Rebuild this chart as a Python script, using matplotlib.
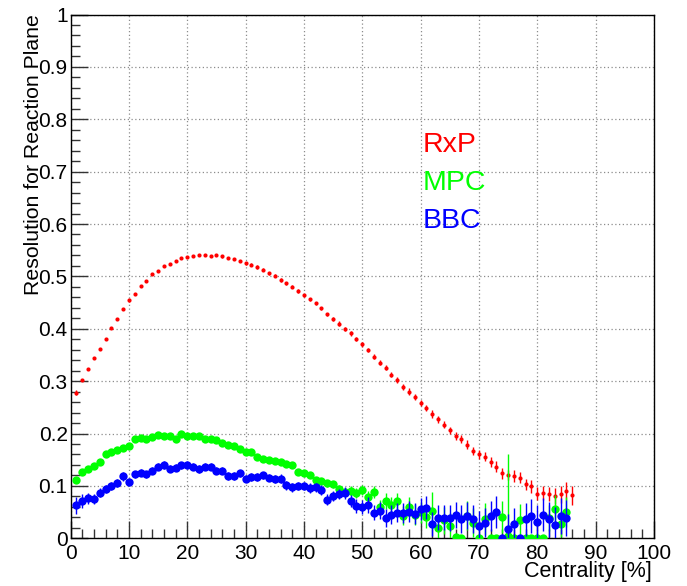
import matplotlib
matplotlib.use("Agg")
import matplotlib.pyplot as plt
import numpy as np
from matplotlib.ticker import MultipleLocator, FuncFormatter

plt.rcParams['font.family'] = ['Liberation Sans', 'DejaVu Sans']

# Event-plane resolution versus centrality (1% bins)
centrality_rxp = np.arange(1, 87)
centrality_det = np.arange(1, 86)

res_rxp = [0.278, 0.302, 0.323, 0.345, 0.361, 0.380, 0.401, 0.419, 0.437, 0.454,
           0.467, 0.482, 0.492, 0.504, 0.511, 0.519, 0.524, 0.529, 0.535, 0.537,
           0.539, 0.540, 0.540, 0.539, 0.540, 0.538, 0.535, 0.534, 0.530, 0.525,
           0.522, 0.518, 0.513, 0.506, 0.501, 0.493, 0.487, 0.480, 0.472, 0.464,
           0.456, 0.449, 0.439, 0.428, 0.419, 0.410, 0.399, 0.391, 0.380, 0.370,
           0.360, 0.347, 0.335, 0.326, 0.312, 0.302, 0.289, 0.280, 0.270, 0.258,
           0.249, 0.237, 0.227, 0.217, 0.206, 0.195, 0.190, 0.179, 0.167, 0.160,
           0.156, 0.146, 0.137, 0.124, 0.121, 0.119, 0.116, 0.103, 0.099, 0.085,
           0.086, 0.084, 0.081, 0.084, 0.090, 0.082]
err_rxp = [0.005, 0.002, 0.002, 0.002, 0.002, 0.002, 0.002, 0.002, 0.002, 0.002,
           0.002, 0.002, 0.002, 0.002, 0.002, 0.002, 0.002, 0.002, 0.002, 0.002,
           0.002, 0.002, 0.002, 0.002, 0.002, 0.002, 0.002, 0.002, 0.002, 0.003,
           0.003, 0.003, 0.003, 0.003, 0.003, 0.003, 0.003, 0.003, 0.003, 0.003,
           0.003, 0.003, 0.003, 0.003, 0.004, 0.004, 0.004, 0.004, 0.004, 0.004,
           0.004, 0.004, 0.005, 0.005, 0.005, 0.005, 0.006, 0.006, 0.006, 0.006,
           0.006, 0.007, 0.007, 0.007, 0.007, 0.008, 0.008, 0.008, 0.008, 0.009,
           0.009, 0.009, 0.010, 0.010, 0.010, 0.011, 0.011, 0.011, 0.012, 0.012,
           0.013, 0.013, 0.015, 0.016, 0.017, 0.018]

res_mpc = [0.111, 0.127, 0.133, 0.138, 0.146, 0.160, 0.165, 0.169, 0.173, 0.177,
           0.190, 0.191, 0.190, 0.193, 0.197, 0.196, 0.196, 0.189, 0.200, 0.195,
           0.196, 0.196, 0.190, 0.190, 0.188, 0.181, 0.178, 0.176, 0.171, 0.164,
           0.165, 0.155, 0.152, 0.150, 0.147, 0.145, 0.142, 0.139, 0.127, 0.125,
           0.121, 0.111, 0.110, 0.105, 0.103, 0.094, 0.088, 0.090, 0.086, 0.092,
           0.079, 0.088, 0.060, 0.071, 0.063, 0.071, 0.043, 0.060, 0.045, 0.050,
           0.041, 0.053, 0.019, 0.034, 0.023, 0.002, 0.000, 0.043, 0.030, 0.001,
           0.037, 0.000, 0.000, 0.041, 0.005, 0.000, 0.035, 0.000, 0.000, 0.000,
           0.000, 0.039, 0.055, 0.027, 0.050]
err_mpc = [0.006, 0.006, 0.005, 0.005, 0.005, 0.005, 0.004, 0.004, 0.004, 0.004,
           0.004, 0.004, 0.004, 0.004, 0.004, 0.004, 0.004, 0.004, 0.004, 0.004,
           0.004, 0.004, 0.004, 0.004, 0.004, 0.004, 0.004, 0.004, 0.004, 0.004,
           0.004, 0.005, 0.005, 0.005, 0.005, 0.005, 0.005, 0.005, 0.005, 0.006,
           0.006, 0.006, 0.006, 0.007, 0.007, 0.008, 0.008, 0.009, 0.010, 0.010,
           0.012, 0.012, 0.014, 0.015, 0.016, 0.016, 0.018, 0.018, 0.020, 0.020,
           0.022, 0.035, 0.022, 0.025, 0.025, 0.000, 0.000, 0.028, 0.028, 0.000,
           0.030, 0.000, 0.000, 0.030, 0.155, 0.000, 0.030, 0.000, 0.000, 0.000,
           0.000, 0.025, 0.028, 0.025, 0.028]

res_bbc = [0.063, 0.071, 0.076, 0.075, 0.087, 0.094, 0.100, 0.106, 0.118, 0.108,
           0.122, 0.125, 0.122, 0.129, 0.137, 0.140, 0.133, 0.135, 0.139, 0.140,
           0.137, 0.132, 0.137, 0.137, 0.129, 0.129, 0.119, 0.119, 0.124, 0.114,
           0.117, 0.117, 0.120, 0.116, 0.113, 0.114, 0.101, 0.097, 0.100, 0.100,
           0.096, 0.097, 0.092, 0.074, 0.081, 0.085, 0.086, 0.071, 0.062, 0.060,
           0.064, 0.049, 0.053, 0.038, 0.045, 0.049, 0.048, 0.051, 0.047, 0.055,
           0.058, 0.028, 0.039, 0.039, 0.039, 0.045, 0.037, 0.043, 0.037, 0.024,
           0.030, 0.042, 0.050, 0.000, 0.017, 0.027, 0.000, 0.036, 0.043, 0.032,
           0.045, 0.036, 0.026, 0.042, 0.039]
err_bbc = [0.016, 0.013, 0.010, 0.010, 0.009, 0.008, 0.008, 0.008, 0.008, 0.008,
           0.007, 0.007, 0.007, 0.007, 0.007, 0.007, 0.007, 0.007, 0.007, 0.007,
           0.007, 0.007, 0.007, 0.007, 0.007, 0.007, 0.007, 0.007, 0.007, 0.007,
           0.007, 0.007, 0.007, 0.007, 0.007, 0.008, 0.008, 0.008, 0.008, 0.008,
           0.009, 0.009, 0.009, 0.010, 0.010, 0.010, 0.011, 0.012, 0.013, 0.013,
           0.015, 0.015, 0.016, 0.017, 0.018, 0.018, 0.019, 0.020, 0.020, 0.021,
           0.022, 0.023, 0.024, 0.024, 0.025, 0.025, 0.026, 0.026, 0.027, 0.028,
           0.028, 0.029, 0.030, 0.000, 0.030, 0.030, 0.000, 0.031, 0.032, 0.032,
           0.032, 0.033, 0.034, 0.034, 0.035]

series_labels = ["RxP", "MPC", "BBC"]
series_colors = ["#ff0000", "#00ff00", "#0000ff"]

fig = plt.figure(figsize=(6.87, 5.86), dpi=100)
ax = fig.add_axes([70.5 / 687, 47.7 / 586, 583.5 / 687, 523.8 / 586])

ax.errorbar(centrality_rxp, res_rxp, yerr=err_rxp, fmt='o', color=series_colors[0],
            ms=3.0, mew=0, elinewidth=1.0, capsize=1.8, capthick=1.0, zorder=3)
ax.errorbar(centrality_det, res_mpc, yerr=err_mpc, fmt='o', color=series_colors[1],
            ms=6.0, mew=0, elinewidth=1.0, capsize=2.3, capthick=1.0, zorder=4)
ax.errorbar(centrality_det, res_bbc, yerr=err_bbc, fmt='o', color=series_colors[2],
            ms=6.0, mew=0, elinewidth=1.0, capsize=2.3, capthick=1.0, zorder=5)

ax.set_xlim(0, 100)
ax.set_ylim(0, 1)
ax.xaxis.set_major_locator(MultipleLocator(10))
ax.xaxis.set_minor_locator(MultipleLocator(2))
ax.yaxis.set_major_locator(MultipleLocator(0.1))
ax.yaxis.set_minor_locator(MultipleLocator(0.02))
ax.yaxis.set_major_formatter(FuncFormatter(lambda v, p: f"{round(v, 2):g}"))
ax.xaxis.set_major_formatter(FuncFormatter(lambda v, p: f"{round(v):g}"))

ax.tick_params(which='both', direction='in', color='#333333', width=1.0,
               labelsize=15, top=False, right=False)
ax.tick_params(which='major', length=12)
ax.tick_params(which='minor', length=6.5)
ax.tick_params(axis='y', pad=2)
ax.tick_params(axis='x', pad=4)

ax.grid(True, which='major', linestyle=(0, (1, 2)), color='#8c8c8c', lw=0.9)
ax.set_axisbelow('line')
for sp in ax.spines.values():
    sp.set_color('black')
    sp.set_linewidth(1.0)

ax.set_xlabel("Centrality [%]", fontsize=15.5)
ax.xaxis.set_label_coords(0.997, -0.064)
ax.xaxis.label.set_ha('right')
ax.xaxis.label.set_va('center')

ax.set_ylabel("Resolution for Reaction Plane", fontsize=15.3, loc='top')
ax.yaxis.set_label_coords(-0.0548, 1.0)
ax.yaxis.label.set_va('baseline')

for label, color, yb in zip(series_labels, series_colors, [0.738, 0.665, 0.592]):
    ax.text(0.6036, yb, label, color=color, fontsize=20.5, ha='left', va='baseline',
            transform=ax.transAxes)

fig.savefig("out.png", dpi=100, facecolor='white')
